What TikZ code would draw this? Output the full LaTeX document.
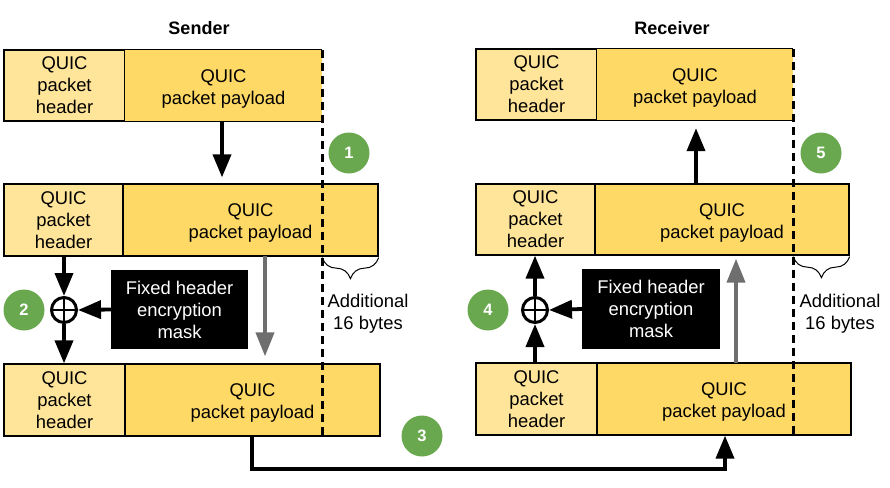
\documentclass[tikz,border=0pt]{standalone}
\usepackage{fontspec}
\setmainfont{Liberation Sans}
\usetikzlibrary{arrows.meta,decorations.pathreplacing,calc}
\definecolor{hdrcol}{HTML}{FFE599}
\definecolor{paycol}{HTML}{FFD966}
\definecolor{badgecol}{HTML}{6AA84F}
\definecolor{grayarr}{HTML}{6E6E6E}
\begin{document}
\begin{tikzpicture}[x=1pt,y=-1pt,
  txt/.style={font=\fontsize{18.4}{22}\selectfont, align=center},
  box/.style={txt, draw=black, line width=1.3pt, inner sep=0pt},
  hdr/.style={box, fill=hdrcol},
  pay/.style={box, fill=paycol},
  paynb/.style={txt, fill=paycol, inner sep=0pt},
  mask/.style={txt, fill=black, text=white, inner sep=0pt},
  badge/.style={circle, fill=badgecol, text=white, inner sep=0pt, minimum size=41pt, font=\fontsize{16.5}{16.5}\selectfont\bfseries},
  xorc/.style={circle, draw=black, line width=3pt, minimum size=25pt, inner sep=0pt},
  arr/.style={line width=3.8pt, -{Triangle[length=23pt,width=18pt]}},
  garr/.style={line width=4pt, draw=grayarr, -{Triangle[length=24pt,width=18pt]}},
  dashline/.style={line width=2.6pt, dash pattern=on 8pt off 5pt},
  bracestyle/.style={line width=1pt, decorate, decoration={brace, amplitude=21pt}},
  title/.style={font=\fontsize{18}{18}\selectfont\bfseries}
]
\useasboundingbox (0,0) rectangle (890,487);

% titles
\node[title] (st) at (199,28) {Sender};
\node[title] (rt) at (672,28) {Receiver};

% ---------- Sender ----------
\node[hdr, minimum width=121pt, minimum height=71pt] (s1h) at (64.5,85.5) {QUIC\\packet\\header};
\node[paynb, minimum width=197pt, minimum height=71pt] (s1p) at (223.5,85.5) {};
\draw[line width=1.3pt] (s1p.north east) -- (s1p.north west) -- (s1p.south west) -- (s1p.south east);
\node[txt] (s1t) at ([yshift=-3pt]s1p.center) {QUIC\\packet payload};

\node[hdr, minimum width=119pt, minimum height=72pt] (s2h) at (63.5,220) {QUIC\\packet\\header};
\node[pay, minimum width=255pt, minimum height=72pt] (s2p) at (250.5,220) {};
\node[txt] (s2t) at ([yshift=-3pt]s2p.center) {QUIC\\packet payload};

\node[hdr, minimum width=121pt, minimum height=72pt] (s3h) at (64.5,400) {QUIC\\packet\\header};
\node[pay, minimum width=255pt, minimum height=72pt] (s3p) at (252.5,400) {};
\node[txt] (s3t) at ([yshift=-3pt]s3p.center) {QUIC\\packet payload};

\draw[dashline] (s1p.north east) -- (s1p.north east |- s3p.south);
\draw[bracestyle] ([yshift=-1pt]s2p.south east) -- ([yshift=-1pt]s1p.north east |- s2p.south);
\node[txt] (sadd) at (368,314) {Additional\\16 bytes};

\node[badge] (b1) at (349,153) {1};

\draw[arr] ([xshift=-1.5pt]s1p.south) -- ([xshift=-1.5pt,yshift=6pt]s1p.south |- s2p.north);

\node[xorc] (sx) at (64,310) {};
\draw[line width=2.2pt] (sx.north) -- (sx.south) (sx.west) -- (sx.east);
\node[mask, minimum width=137pt, minimum height=79pt] (sm) at (179.5,309.5) {Fixed header\\encryption\\mask};
\node[badge] (b2) at (24,310) {2};

\draw[arr] (s2h.south -| sx.north) -- (sx.north);
\draw[arr] (sx.south) -- (sx.south |- s3h.north);
\draw[arr] (sm.west) -- (sx.east);

\coordinate (sg) at (265,256);
\draw[garr] (sg) -- ([yshift=7pt]sg |- s3p.north);

% ---------- Receiver ----------
\node[hdr, minimum width=121pt, minimum height=71pt] (r1h) at (536.5,84.5) {QUIC\\packet\\header};
\node[paynb, minimum width=196pt, minimum height=71pt] (r1p) at (695,84.5) {};
\draw[line width=1.3pt] (r1p.north east) -- (r1p.north west) -- (r1p.south west) -- (r1p.south east);
\node[txt] (r1t) at ([yshift=-3pt]r1p.center) {QUIC\\packet payload};

\node[hdr, minimum width=119pt, minimum height=71pt] (r2h) at (535.5,219.5) {QUIC\\packet\\header};
\node[pay, minimum width=254pt, minimum height=71pt] (r2p) at (722,219.5) {};
\node[txt] (r2t) at ([yshift=-3pt]r2p.center) {QUIC\\packet payload};

\node[hdr, minimum width=121pt, minimum height=72pt] (r3h) at (536.5,399) {QUIC\\packet\\header};
\node[pay, minimum width=254pt, minimum height=72pt] (r3p) at (724,399) {};
\node[txt] (r3t) at ([yshift=-3pt]r3p.center) {QUIC\\packet payload};

\draw[dashline] (r1p.north east) -- (r1p.north east |- r3p.south);
\draw[bracestyle] ([yshift=-1pt]r2p.south east) -- ([yshift=-1pt]r1p.north east |- r2p.south);
\node[txt] (radd) at (840,314) {Additional\\16 bytes};

\node[badge] (b5) at (821,153) {5};

\coordinate (rup) at (696,184);
\draw[arr] (rup) -- ([yshift=-8pt]rup |- r1p.south);

\node[xorc] (rx) at (535,310) {};
\draw[line width=2.2pt] (rx.north) -- (rx.south) (rx.west) -- (rx.east);
\node[mask, minimum width=138pt, minimum height=80pt] (rm) at (651,309) {Fixed header\\encryption\\mask};
\node[badge] (b4) at (488,310) {4};

\draw[arr] (r3h.north -| rx.south) -- (rx.south);
\draw[arr] (rx.north) -- (rx.north |- r2h.south);
\draw[arr] (rm.west) -- (rx.east);

\coordinate (rg) at (736,363);
\draw[garr] (rg) -- ([yshift=-3pt]rg |- r2p.south);

% ---------- transfer ----------
\coordinate (bend) at (725,469);
\draw[arr] ([xshift=-0.5pt]s3p.south) |- (bend) -- (bend |- r3p.south);
\node[badge] (b3) at (422,436) {3};

\end{tikzpicture}
\end{document}
